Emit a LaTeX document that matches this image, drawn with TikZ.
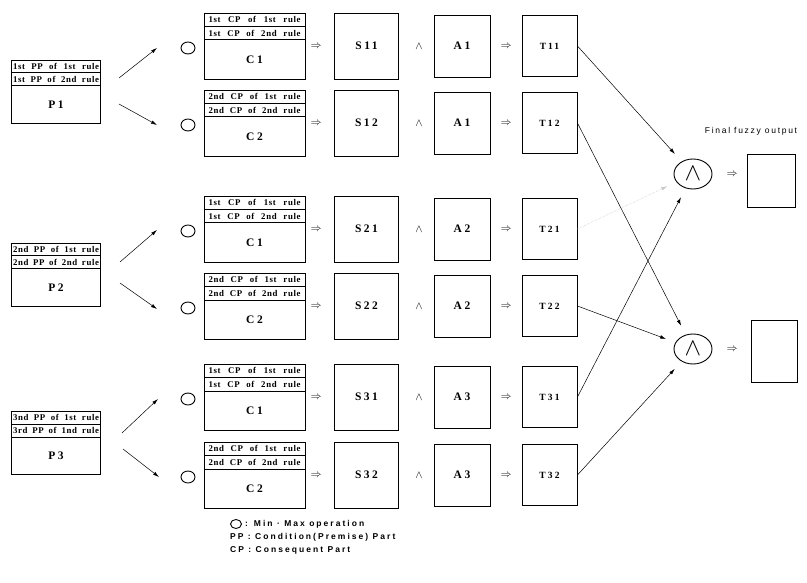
\documentclass[tikz,border=0pt]{standalone}
\usepackage{fontspec}
\setmainfont{Liberation Serif}
\setsansfont{Liberation Sans}
\usetikzlibrary{arrows.meta,calc,shapes.geometric}
\newcommand\fillw[2]{\makebox[#1][s]{#2}}
\newcommand\rulebox[9]{%
  \node[box, minimum width=#4pt, minimum height=#5pt, anchor=north] (#1) at (#2,#3) {};
  \draw[sep] ({#2-#4/2},{#3+#6}) -- ({#2+#4/2},{#3+#6});
  \draw[sep] ({#2-#4/2},{#3+2*#6}) -- ({#2+#4/2},{#3+2*#6});
  \node[rowtxt] (#1a) at ({#2},{#3+#6/2}) {#7};
  \node[rowtxt] (#1b) at ({#2},{#3+1.5*#6}) {#8};
  \node[big] (#1c) at ({#2},{#3+#6+#5/2}) {#9};
}
\begin{document}
\begin{tikzpicture}[x=1pt,y=-1pt,
  box/.style={draw, line width=0.9pt, inner sep=0pt},
  sep/.style={line width=1pt},
  rowtxt/.style={font=\fontsize{8.8}{9}\selectfont\bfseries\addfontfeature{LetterSpace=7}, inner sep=0pt},
  big/.style={font=\fontsize{11.5}{12}\selectfont\bfseries\addfontfeature{LetterSpace=22}, inner sep=0pt},
  smallbig/.style={font=\fontsize{9.5}{10}\selectfont\bfseries\addfontfeature{LetterSpace=22}, inner sep=0pt},
  sbox/.style={box, minimum width=64pt, minimum height=66pt},
  abox/.style={box, minimum width=56pt, minimum height=62pt},
  tbox/.style={box, minimum width=55pt, minimum height=61pt},
  ell/.style={draw, ellipse, line width=0.9pt, minimum width=14pt, minimum height=12pt, inner sep=0pt},
  fand/.style={draw, ellipse, line width=0.9pt, minimum width=38pt, minimum height=30pt, inner sep=0pt, font=\fontsize{24}{24}\selectfont},
  sym/.style={inner sep=0pt, font=\fontsize{11}{11}\selectfont},
  conn/.style={line width=0.5pt, -{Latex[length=6pt,width=3.5pt]}},
  faint/.style={conn, draw=gray!45, densely dotted},
  legend/.style={font=\fontsize{8.5}{9}\sffamily\bfseries\addfontfeature{LetterSpace=24}, inner sep=0pt, anchor=west},
]
\useasboundingbox (0,0) rectangle (807,583);

% premise boxes
\rulebox{P1}{56}{60}{89}{63}{13}{\fillw{86pt}{1st PP of 1st rule}}{\fillw{86pt}{1st PP of 2nd rule}}{P1}
\rulebox{P2}{56}{243}{89}{63}{13}{\fillw{86pt}{2nd PP of 1st rule}}{\fillw{86pt}{2nd PP of 2nd rule}}{P2}
\rulebox{P3}{56}{411}{89}{63}{13}{\fillw{86pt}{3nd PP of 1st rule}}{\fillw{86pt}{3rd PP of 1nd rule}}{P3}

% consequent boxes
\rulebox{Ca}{254.5}{13}{101}{66}{13.5}{\fillw{92pt}{1st CP of 1st rule}}{\fillw{92pt}{1st CP of 2nd rule}}{C1}
\rulebox{Cb}{254.5}{90}{101}{66}{13.5}{\fillw{92pt}{2nd CP of 1st rule}}{\fillw{92pt}{2nd CP of 2nd rule}}{C2}
\rulebox{Cc}{254.5}{196}{101}{66}{13.5}{\fillw{92pt}{1st CP of 1st rule}}{\fillw{92pt}{1st CP of 2nd rule}}{C1}
\rulebox{Cd}{254.5}{273}{101}{66}{13.5}{\fillw{92pt}{2nd CP of 1st rule}}{\fillw{92pt}{2nd CP of 2nd rule}}{C2}
\rulebox{Ce}{254.5}{364}{101}{66}{13.5}{\fillw{92pt}{1st CP of 1st rule}}{\fillw{92pt}{1st CP of 2nd rule}}{C1}
\rulebox{Cf}{254.5}{442}{101}{66}{13.5}{\fillw{92pt}{2nd CP of 1st rule}}{\fillw{92pt}{2nd CP of 2nd rule}}{C2}

% rows
\foreach \n/\r/\s/\a/\t in {a/46/S11/A1/T11, b/123/S12/A1/T12, c/229/S21/A2/T21, d/306/S22/A2/T22, e/397/S31/A3/T31, f/475/S32/A3/T32}{
  \node[ell] (o\n) at (188,\r+2) {};
  \node[sym] (ra\n) at (316,\r) {$\Rightarrow$};
  \node[sbox, big] (S\n) at (366.5,\r) {\s};
  \node[sym] (w\n) at (419,\r) {$\wedge$};
  \node[abox, big] (A\n) at (462,\r) {\a};
  \node[sym] (rb\n) at (506,\r) {$\Rightarrow$};
  \node[tbox, smallbig] (T\n) at (549.5,\r) {\t};
}

% arrows from premises
\coordinate (P1u) at (119,78);  \coordinate (oau) at (157,48);
\coordinate (P1d) at (119,104); \coordinate (obd) at (157,125);
\coordinate (P2u) at (120,262); \coordinate (ocu) at (157,230);
\coordinate (P2d) at (120,283); \coordinate (odd) at (157,309);
\coordinate (P3u) at (122,433); \coordinate (oeu) at (158,399);
\coordinate (P3d) at (123,449); \coordinate (ofd) at (159,477);
\draw[conn] (P1u) -- (oau);
\draw[conn] (P1d) -- (obd);
\draw[conn] (P2u) -- (ocu);
\draw[conn] (P2d) -- (odd);
\draw[conn] (P3u) -- (oeu);
\draw[conn] (P3d) -- (ofd);

% final aggregation
\node[fand] (F1) at (693,174) {$\wedge$};
\node[fand] (F2) at (693,349) {$\wedge$};
\node[sym] (rF1) at (732,174) {$\Rightarrow$};
\node[sym] (rF2) at (732,349) {$\Rightarrow$};
\node[box, minimum width=48pt, minimum height=53pt] (O1) at (771,180.5) {};
\node[box, minimum width=46pt, minimum height=62pt] (O2) at (774,351) {};
\node[font=\fontsize{8.5}{9}\sffamily\addfontfeature{LetterSpace=20}, inner sep=0pt] (fl) at (751,131) {Final fuzzy output};

\draw[conn, shorten >=10pt] (Ta.east) -- (F1);
\draw[faint, shorten >=10pt] (Tc.east) -- (F1);
\draw[conn, shorten >=10pt] (Te.east) -- (F1);
\draw[conn, shorten >=10pt] (Tb.east) -- (F2);
\draw[conn, shorten >=10pt] (Td.east) -- (F2);
\draw[conn, shorten >=10pt] (Tf.east) -- (F2);

% legend
\node[ell, minimum width=11pt, minimum height=9pt] (lg) at (236,524) {};
\node[legend] (l1) at (245,524) {: Min \textperiodcentered\ Max operation};
\node[legend] (l2) at (230,537) {PP : Condition(Premise) Part};
\node[legend] (l3) at (230,550) {CP : Consequent Part};
\end{tikzpicture}
\end{document}
